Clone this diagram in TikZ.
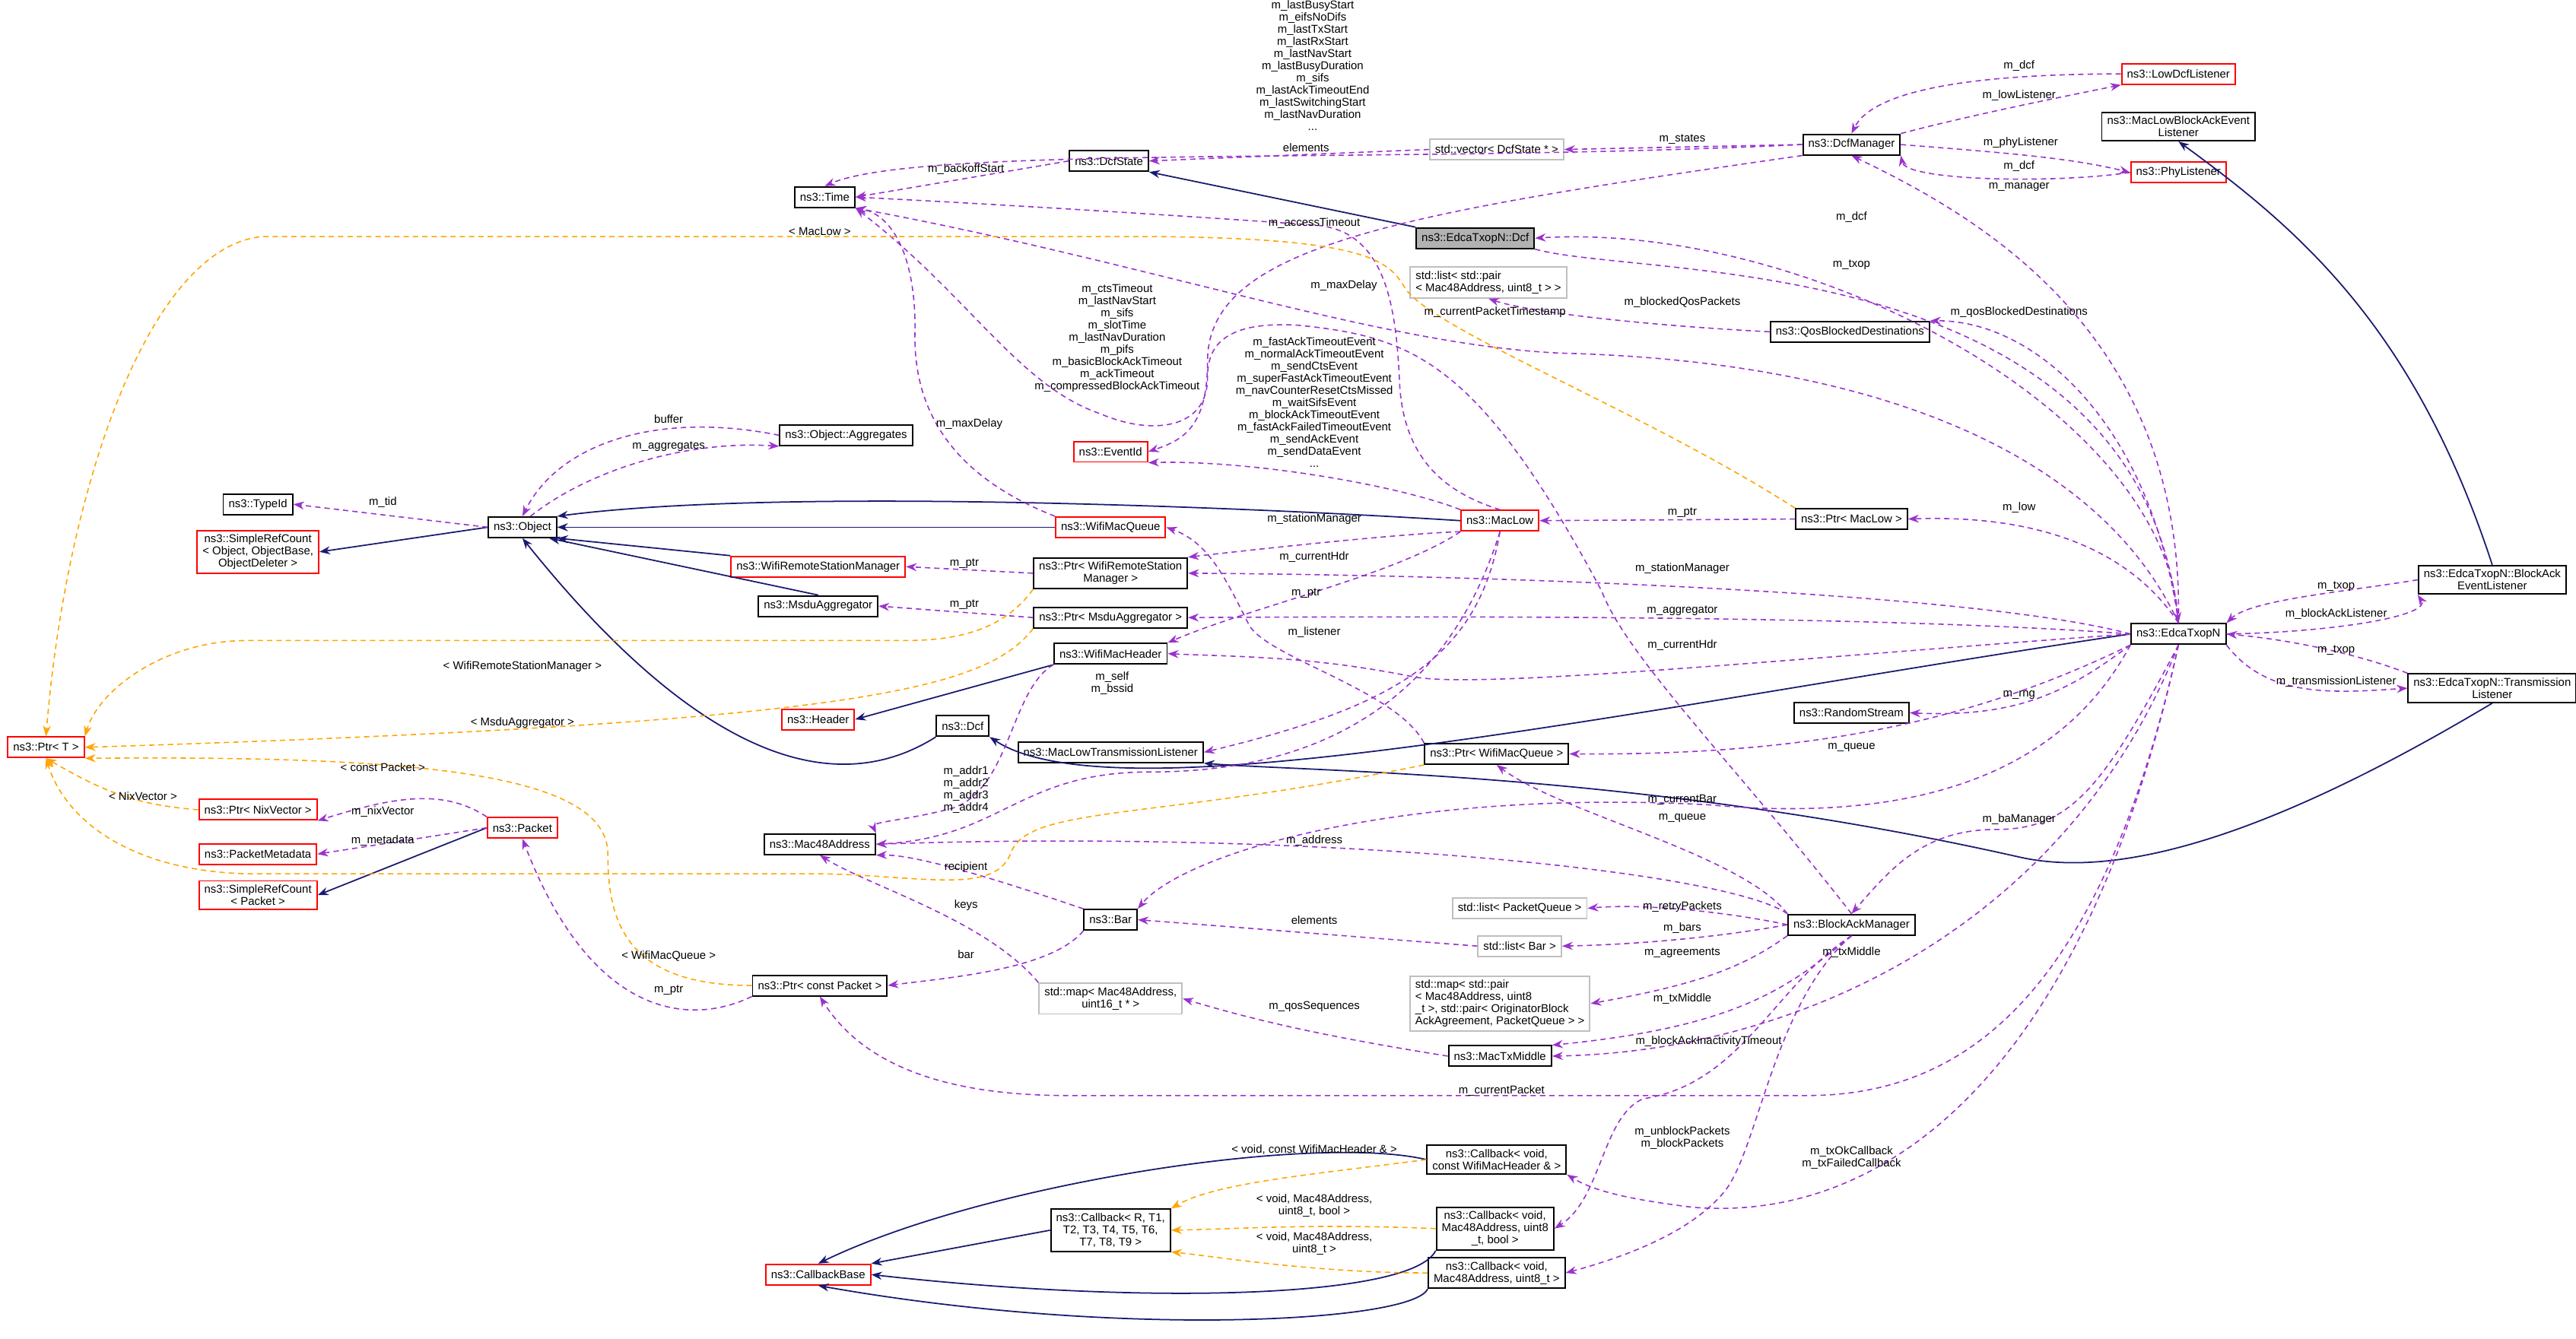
\documentclass[tikz,border=0pt]{standalone}
\usepackage{fontspec}
\setmainfont{Liberation Sans}
\usetikzlibrary{arrows.meta}
\newcommand{\fs}{\fontsize{4.25}{4.55}\selectfont}
\definecolor{nv}{HTML}{191970}
\definecolor{pu}{HTML}{9A32CD}
\definecolor{og}{HTML}{FFA500}
\tikzset{
 box/.style={draw=black,line width=0.55pt,fill=white,font=\fs,inner xsep=2pt,inner ysep=1.5pt,minimum height=0.27cm,align=center},
 rbox/.style={box,draw=red},
 gbox/.style={box,draw=black!25},
 lbl/.style={font=\fs,inner sep=0pt,align=center},
 inh/.style={draw=nv,line width=0.5pt,-{Stealth[length=4pt,width=3pt]}},
 use/.style={draw=pu,line width=0.45pt,dash pattern=on 2pt off 1.5pt,-{Stealth[length=4pt,width=3pt]}},
 tpl/.style={draw=og,line width=0.45pt,dash pattern=on 2pt off 1.5pt,-{Stealth[length=4pt,width=3pt]}}
}
\begin{document}
\begin{tikzpicture}[x=0.0216cm,y=-0.0216cm]
\useasboundingbox (0,0) rectangle (1568,815);
% nodes
\node[box] (time) at (502,120) {ns3::Time};
\node[box] (dcfstate) at (675,98) {ns3::DcfState};
\node[gbox] (vecdcf) at (911,91) {std::vector< DcfState * >};
\node[box] (dcfman) at (1127,88) {ns3::DcfManager};
\node[rbox] (lowdcf) at (1326,45) {ns3::LowDcfListener};
\node[box] (mlbael) at (1326,77) {ns3::MacLowBlockAckEvent\\Listener};
\node[rbox] (phyl) at (1326,105) {ns3::PhyListener};
\node[box,fill=black!30] (edcadcf) at (898,145) {ns3::EdcaTxopN::Dcf};
\node[gbox,align=left] (listpair) at (906,172) {std::list< std::pair\\< Mac48Address, uint8\_t > >};
\node[box] (qosbd) at (1126,202) {ns3::QosBlockedDestinations};
\node[box] (aggr) at (515,265) {ns3::Object::Aggregates};
\node[box] (typeid) at (157,307) {ns3::TypeId};
\node[box] (object) at (318,321) {ns3::Object};
\node[rbox] (srcobj) at (157,336) {ns3::SimpleRefCount\\< Object, ObjectBase,\\ObjectDeleter >};
\node[rbox] (eventid) at (676,275) {ns3::EventId};
\node[rbox] (maclow) at (913,317) {ns3::MacLow};
\node[box] (ptrmaclow) at (1127,316) {ns3::Ptr< MacLow >};
\node[rbox] (wmq) at (676,321) {ns3::WifiMacQueue};
\node[rbox] (wrsm) at (498,345) {ns3::WifiRemoteStationManager};
\node[box] (ptrwrsm) at (676,349) {ns3::Ptr< WifiRemoteStation\\Manager >};
\node[box] (msdu) at (498,369) {ns3::MsduAggregator};
\node[box] (ptrmsdu) at (676,376) {ns3::Ptr< MsduAggregator >};
\node[box] (wmh) at (676,398) {ns3::WifiMacHeader};
\node[box] (edca) at (1326,386) {ns3::EdcaTxopN};
\node[box] (baeli) at (1517,353) {ns3::EdcaTxopN::BlockAck\\EventListener};
\node[box] (trli) at (1517,419) {ns3::EdcaTxopN::Transmission\\Listener};
\node[rbox] (header) at (498,438) {ns3::Header};
\node[box] (dcf) at (586,442) {ns3::Dcf};
\node[box] (mltl) at (676,458) {ns3::MacLowTransmissionListener};
\node[box] (rng) at (1127,434) {ns3::RandomStream};
\node[box] (ptrwmq) at (911,459) {ns3::Ptr< WifiMacQueue >};
\node[rbox] (ptrt) at (28,455) {ns3::Ptr< T >};
\node[rbox] (ptrnix) at (157,493) {ns3::Ptr< NixVector >};
\node[rbox] (pmeta) at (157,520) {ns3::PacketMetadata};
\node[rbox] (srcpkt) at (157,545) {ns3::SimpleRefCount\\< Packet >};
\node[rbox] (packet) at (318,504) {ns3::Packet};
\node[box] (mac48) at (499,514) {ns3::Mac48Address};
\node[box] (bar) at (676,560) {ns3::Bar};
\node[box] (ptrcp) at (499,600) {ns3::Ptr< const Packet >};
\node[gbox] (mapm) at (676,608) {std::map< Mac48Address,\\uint16\_t * >};
\node[gbox] (listpq) at (925,553) {std::list< PacketQueue >};
\node[gbox] (listbar) at (925,576) {std::list< Bar >};
\node[box] (bam) at (1127,563) {ns3::BlockAckManager};
\node[gbox,align=left] (mapagr) at (913,611) {std::map< std::pair\\< Mac48Address, uint8\\\_t >, std::pair< OriginatorBlock\\AckAgreement, PacketQueue > >};
\node[box] (txmid) at (913,643) {ns3::MacTxMiddle};
\node[rbox] (cbase) at (498,776) {ns3::CallbackBase};
\node[box] (cbr) at (676,749) {ns3::Callback< R, T1,\\T2, T3, T4, T5, T6,\\T7, T8, T9 >};
\node[box] (cbwmh) at (911,706) {ns3::Callback< void,\\const WifiMacHeader \& >};
\node[box] (cbbool) at (910,748) {ns3::Callback< void,\\Mac48Address, uint8\\\_t, bool >};
\node[box] (cbu8) at (911,775) {ns3::Callback< void,\\Mac48Address, uint8\_t >};
% inheritance
\draw[inh] (edcadcf.north west) -- (dcfstate.south east);
\draw[inh] (baeli.north) .. controls (1470,200) and (1400,140) .. (mlbael.south);
\draw[inh] (object.west) -- (srcobj.east);
\draw[inh] (maclow.west) .. controls (780,310) and (480,296) .. (object.north east);
\draw[inh] (wmq.west) -- (object.east);
\draw[inh] (wrsm.north west) -- (object.south east);
\draw[inh] (msdu.north) -- ([xshift=-3pt]object.south east);
\draw[inh] (dcf.south west) .. controls (520,480) and (440,480) .. (object.south);
\draw[inh] (edca.west) .. controls (1000,430) and (680,500) .. (dcf.south east);
\draw[inh] (trli.south) .. controls (1380,510) and (1290,535) .. (1230,522) .. controls (1000,470) and (800,470) .. (mltl.south east);
\draw[inh] (wmh.south west) -- (header.east);
\draw[inh] (packet.west) -- (srcpkt.east);
\draw[inh] (cbr.west) -- (cbase.north east);
\draw[inh] (cbwmh.west) .. controls (800,690) and (600,720) .. (cbase.north);
\draw[inh] (cbbool.south west) .. controls (860,790) and (700,795) .. (cbase.east);
\draw[inh] (cbu8.south west) .. controls (860,805) and (680,815) .. (cbase.south);
% usage
\draw[use] (dcfman.west) .. controls (850,100) and (560,88) .. (time.north);
\draw[use] (dcfstate.west) -- (time.east);
\draw[use] (vecdcf.west) -- (dcfstate.east);
\draw[use] (dcfman.west) -- (vecdcf.east);
\draw[use] (dcfman.south west) .. controls (850,130) and (735,150) .. (735,220) .. controls (735,260) and (720,268) .. (eventid.east);
\draw[use] (edca.north) .. controls (1280,280) and (1150,220) .. (950,215) .. controls (840,210) and (700,160) .. (time.south east);
\draw[use] (wmq.north west) .. controls (580,290) and (555,250) .. (557,200) .. controls (557,150) and (540,130) .. (time.south east);
\draw[use] (maclow.north) .. controls (880,300) and (855,280) .. (852,235) .. controls (850,190) and (845,140) .. (800,137) .. controls (700,130) and (600,124) .. (time.east);
\draw[use] (bam.north) .. controls (1060,470) and (990,400) .. (975,360) .. controls (900,220) and (860,205) .. (790,198) .. controls (740,195) and (735,215) .. (735,230) .. controls (735,262) and (700,265) .. (670,252) .. controls (620,235) and (590,180) .. (time.south east);
\draw[use] (maclow.north west) .. controls (850,295) and (760,280) .. (eventid.south east);
\draw[use] (aggr.west) .. controls (400,250) and (340,270) .. (object.north);
\draw[use] ([xshift=3pt]object.north) .. controls (360,285) and (420,268) .. (aggr.south west);
\draw[use] (object.west) -- (typeid.east);
\draw[use] (ptrmaclow.west) -- (maclow.east);
\draw[use] (edca.north) .. controls (1300,340) and (1250,313) .. (ptrmaclow.east);
\draw[use] (maclow.south west) .. controls (850,325) and (760,335) .. (ptrwrsm.north east);
\draw[use] (ptrwrsm.west) -- (wrsm.east);
\draw[use] (edca.west) .. controls (1200,360) and (900,350) .. (ptrwrsm.east);
\draw[use] (ptrmsdu.west) -- (msdu.east);
\draw[use] (edca.west) .. controls (1150,375) and (900,375) .. (ptrmsdu.east);
\draw[use] (maclow.south west) .. controls (850,350) and (760,370) .. (wmh.north east);
\draw[use] (edca.west) .. controls (1100,400) and (900,420) .. (860,412) .. controls (800,400) and (760,400) .. (wmh.east);
\draw[use] (ptrwmq.north west) .. controls (850,420) and (770,400) .. (760,380) .. controls (745,350) and (735,330) .. (wmq.east);
\draw[use] (maclow.south) .. controls (900,400) and (850,430) .. (mltl.east);
\draw[use] (wmh.south west) .. controls (615,420) and (615,480) .. (580,492) .. controls (550,500) and (530,500) .. (mac48.north east);
\draw[use] (maclow.south) .. controls (880,430) and (800,470) .. (700,470) .. controls (620,470) and (610,510) .. (mac48.east);
\draw[use] (edca.south west) .. controls (1200,440) and (1100,460) .. (ptrwmq.east);
\draw[use] (edca.south west) .. controls (1260,420) and (1230,437) .. (rng.east);
\draw[use] (edca.south east) .. controls (1380,425) and (1420,422) .. (trli.west);
\draw[use] (trli.north west) .. controls (1440,400) and (1400,390) .. (edca.east);
\draw[use] (baeli.west) .. controls (1430,360) and (1370,365) .. (edca.north east);
\draw[use] (edca.east) .. controls (1420,385) and (1480,375) .. (baeli.south west);
\draw[use] (edca.north) .. controls (1320,250) and (1100,135) .. (edcadcf.east);
\draw[use] (edcadcf.south east) .. controls (1000,170) and (1300,150) .. (edca.north);
\draw[use] (edca.north) .. controls (1330,200) and (1200,130) .. (dcfman.south);
\draw[use] (dcfman.north east) .. controls (1200,70) and (1250,60) .. (lowdcf.south west);
\draw[use] (lowdcf.west) .. controls (1200,45) and (1140,55) .. (dcfman.north);
\draw[use] (dcfman.east) .. controls (1220,93) and (1260,96) .. (phyl.west);
\draw[use] (phyl.west) .. controls (1250,112) and (1160,110) .. (dcfman.south east);
\draw[use] (qosbd.west) .. controls (1000,198) and (930,190) .. (listpair.south);
\draw[use] (edca.north) .. controls (1310,260) and (1240,195) .. (qosbd.north east);
\draw[use] (edca.south west) .. controls (1250,480) and (1150,500) .. (1040,490) .. controls (850,480) and (720,520) .. (bar.north east);
\draw[use] (bam.north west) .. controls (1060,520) and (950,495) .. (ptrwmq.south);
\draw[use] (bam.north west) .. controls (1050,530) and (800,505) .. (mac48.east);
\draw[use] (edca.south) .. controls (1280,480) and (1260,505) .. (1215,505) .. controls (1170,505) and (1150,530) .. (bam.north);
\draw[use] (bar.north west) .. controls (620,540) and (560,520) .. (mac48.south east);
\draw[use] (mapm.north west) .. controls (600,560) and (530,540) .. (mac48.south);
\draw[use] (bar.south west) .. controls (640,590) and (580,595) .. (ptrcp.east);
\draw[use] (listbar.west) .. controls (820,570) and (760,565) .. (bar.east);
\draw[use] (bam.west) .. controls (1050,555) and (1000,550) .. (listpq.east);
\draw[use] (bam.west) .. controls (1050,570) and (1000,575) .. (listbar.east);
\draw[use] (bam.south west) .. controls (1060,590) and (1030,600) .. (mapagr.east);
\draw[use] (bam.south) .. controls (1090,600) and (1060,625) .. (txmid.north east);
\draw[use] (edca.south) .. controls (1260,560) and (1100,640) .. (txmid.east);
\draw[use] (bam.south) .. controls (1080,600) and (1060,660) .. (1000,669) .. controls (975,680) and (975,730) .. (cbbool.east);
\draw[use] (bam.south) .. controls (1080,610) and (1070,700) .. (1050,725) .. controls (1030,750) and (990,765) .. (cbu8.east);
\draw[use] (ptrcp.south west) .. controls (420,625) and (360,620) .. (packet.south);
\draw[use] (packet.north west) .. controls (270,480) and (240,485) .. (ptrnix.south east);
\draw[use] (packet.west) -- (pmeta.east);
\draw[use] (edca.south) .. controls (1280,600) and (1200,667) .. (1100,667) -- (650,667) .. controls (560,667) and (520,640) .. (ptrcp.south);
\draw[use] (txmid.west) .. controls (800,630) and (760,620) .. (mapm.east);
\draw[use] (edca.south) .. controls (1270,650) and (1150,745) .. (1030,735) .. controls (990,730) and (970,725) .. (cbwmh.south east);
% templates
\draw[tpl] (ptrmaclow.north west) .. controls (1000,250) and (870,200) .. (855,175) .. controls (845,158) and (830,145) .. (700,144) -- (160,144) .. controls (90,150) and (40,300) .. (ptrt.north);
\draw[tpl] (ptrwrsm.south west) .. controls (610,385) and (580,390) .. (550,390) -- (150,390) .. controls (100,390) and (60,420) .. (ptrt.north east);
\draw[tpl] (ptrmsdu.south west) .. controls (600,420) and (520,440) .. (ptrt.east);
\draw[tpl] (ptrcp.west) .. controls (380,600) and (370,560) .. (370,520) .. controls (370,470) and (250,460) .. (ptrt.south east);
\draw[tpl] (ptrnix.west) .. controls (80,490) and (60,480) .. (ptrt.south);
\draw[tpl] (ptrwmq.south west) .. controls (700,500) and (625,490) .. (615,520) .. controls (605,545) and (560,533) .. (500,532) -- (150,532) .. controls (80,530) and (40,500) .. (ptrt.south);
\draw[tpl] (cbwmh.west) .. controls (800,715) and (740,720) .. (cbr.north east);
\draw[tpl] (cbbool.west) .. controls (800,745) and (760,748) .. (cbr.east);
\draw[tpl] (cbu8.west) .. controls (800,775) and (740,765) .. (cbr.south east);
% labels
\node[lbl] (l1) at (799,40) {m\_lastBusyStart\\m\_eifsNoDifs\\m\_lastTxStart\\m\_lastRxStart\\m\_lastNavStart\\m\_lastBusyDuration\\m\_sifs\\m\_lastAckTimeoutEnd\\m\_lastSwitchingStart\\m\_lastNavDuration\\...};
\node[lbl] (l2) at (588,103) {m\_backoffStart};
\node[lbl] (l3) at (795,90) {elements};
\node[lbl] (l4) at (1024,85) {m\_states};
\node[lbl] (l5) at (800,136) {m\_accessTimeout};
\node[lbl] (l6) at (680,206) {m\_ctsTimeout\\m\_lastNavStart\\m\_sifs\\m\_slotTime\\m\_lastNavDuration\\m\_pifs\\m\_basicBlockAckTimeout\\m\_ackTimeout\\m\_compressedBlockAckTimeout};
\node[lbl] (l7) at (818,174) {m\_maxDelay};
\node[lbl] (l8) at (910,190) {m\_currentPacketTimestamp};
\node[lbl] (l9) at (800,245) {m\_fastAckTimeoutEvent\\m\_normalAckTimeoutEvent\\m\_sendCtsEvent\\m\_superFastAckTimeoutEvent\\m\_navCounterResetCtsMissed\\m\_waitSifsEvent\\m\_blockAckTimeoutEvent\\m\_fastAckFailedTimeoutEvent\\m\_sendAckEvent\\m\_sendDataEvent\\...};
\node[lbl] (l10) at (590,258) {m\_maxDelay};
\node[lbl] (l11) at (407,255) {buffer};
\node[lbl] (l12) at (407,272) {m\_aggregates};
\node[lbl] (l13) at (233,306) {m\_tid};
\node[lbl] (l14) at (1024,312) {m\_ptr};
\node[lbl] (l15) at (1229,309) {m\_low};
\node[lbl] (l16) at (800,316) {m\_stationManager};
\node[lbl] (l17) at (587,343) {m\_ptr};
\node[lbl] (l18) at (1024,346) {m\_stationManager};
\node[lbl] (l19) at (587,368) {m\_ptr};
\node[lbl] (l20) at (1024,372) {m\_aggregator};
\node[lbl] (l21) at (800,339) {m\_currentHdr};
\node[lbl] (l22) at (1024,393) {m\_currentHdr};
\node[lbl] (l23) at (795,361) {m\_ptr};
\node[lbl] (l24) at (800,385) {m\_listener};
\node[lbl] (l25) at (677,416) {m\_self\\m\_bssid};
\node[lbl] (l26) at (588,481) {m\_addr1\\m\_addr2\\m\_addr3\\m\_addr4};
\node[lbl] (l27) at (1127,455) {m\_queue};
\node[lbl] (l28) at (1229,423) {m\_rng};
\node[lbl] (l29) at (1422,415) {m\_transmissionListener};
\node[lbl] (l30) at (1422,396) {m\_txop};
\node[lbl] (l31) at (1422,357) {m\_txop};
\node[lbl] (l32) at (1422,374) {m\_blockAckListener};
\node[lbl] (l33) at (1127,132) {m\_dcf};
\node[lbl] (l34) at (1127,161) {m\_txop};
\node[lbl] (l35) at (1229,114) {m\_manager};
\node[lbl] (l36) at (1229,58) {m\_lowListener};
\node[lbl] (l37) at (1229,40) {m\_dcf};
\node[lbl] (l38) at (1230,87) {m\_phyListener};
\node[lbl] (l39) at (1229,101) {m\_dcf};
\node[lbl] (l40) at (1024,184) {m\_blockedQosPackets};
\node[lbl] (l41) at (1229,190) {m\_qosBlockedDestinations};
\node[lbl] (l42) at (1024,487) {m\_currentBar};
\node[lbl] (l43) at (1024,498) {m\_queue};
\node[lbl] (l44) at (1229,499) {m\_baManager};
\node[lbl] (l45) at (800,512) {m\_address};
\node[lbl] (l46) at (588,528) {recipient};
\node[lbl] (l47) at (588,551) {keys};
\node[lbl] (l48) at (588,581) {bar};
\node[lbl] (l49) at (800,560) {elements};
\node[lbl] (l50) at (1024,552) {m\_retryPackets};
\node[lbl] (l51) at (1024,565) {m\_bars};
\node[lbl] (l52) at (1024,580) {m\_agreements};
\node[lbl] (l53) at (1127,580) {m\_txMiddle};
\node[lbl] (l54) at (1024,608) {m\_txMiddle};
\node[lbl] (l55) at (1040,634) {m\_blockAckInactivityTimeout};
\node[lbl] (l56) at (1024,693) {m\_unblockPackets\\m\_blockPackets};
\node[lbl] (l57) at (407,603) {m\_ptr};
\node[lbl] (l58) at (233,494) {m\_nixVector};
\node[lbl] (l59) at (233,512) {m\_metadata};
\node[lbl] (l60) at (914,664) {m\_currentPacket};
\node[lbl] (l61) at (800,613) {m\_qosSequences};
\node[lbl] (l62) at (1127,705) {m\_txOkCallback\\m\_txFailedCallback};
\node[lbl] (l63) at (499,141) {< MacLow >};
\node[lbl] (l64) at (318,406) {< WifiRemoteStationManager >};
\node[lbl] (l65) at (318,440) {< MsduAggregator >};
\node[lbl] (l66) at (233,467) {< const Packet >};
\node[lbl] (l67) at (87,485) {< NixVector >};
\node[lbl] (l68) at (407,582) {< WifiMacQueue >};
\node[lbl] (l69) at (800,700) {< void, const WifiMacHeader \& >};
\node[lbl] (l70) at (800,734) {< void, Mac48Address,\\uint8\_t, bool >};
\node[lbl] (l71) at (800,757) {< void, Mac48Address,\\uint8\_t >};
\end{tikzpicture}
\end{document}
